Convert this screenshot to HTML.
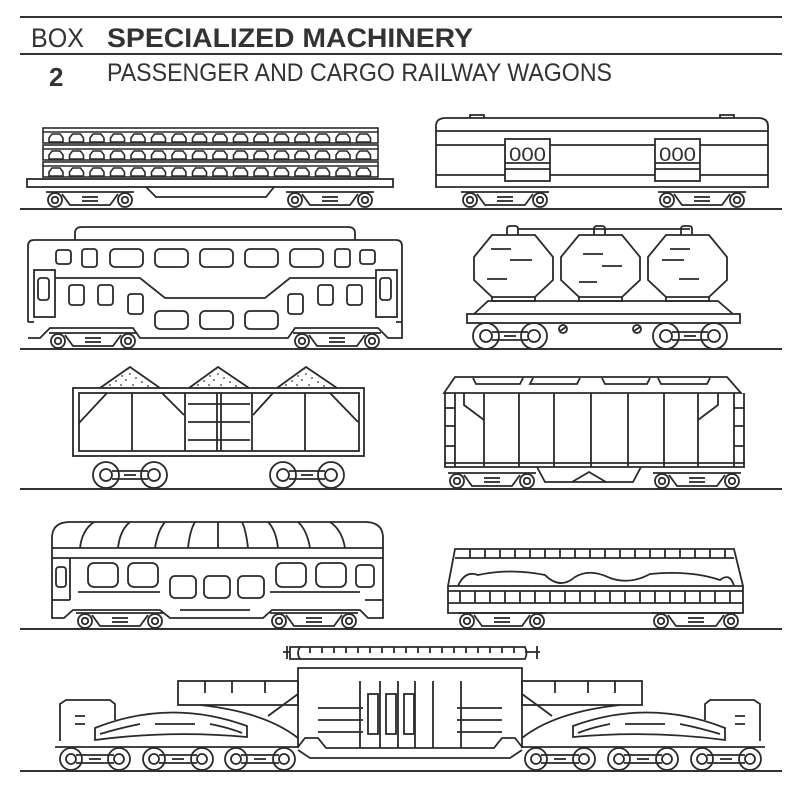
<!DOCTYPE html>
<html><head><meta charset="utf-8"><style>
html,body{margin:0;padding:0;background:#fff;}
svg{display:block;}
text{font-family:"Liberation Sans",sans-serif;fill:#333;}
</style></head><body>
<svg width="795" height="800" viewBox="0 0 795 800" xmlns="http://www.w3.org/2000/svg">
<defs>
<g id="bg" fill="none" stroke="#2a2a2a" stroke-width="1.8">
  <line x1="-44" y1="-16" x2="44" y2="-16"/>
  <circle cx="-35" cy="-8" r="7"/><circle cx="-35" cy="-8" r="3.2"/>
  <circle cx="35" cy="-8" r="7"/><circle cx="35" cy="-8" r="3.2"/>
  <path d="M-28,-14 L-20,-3 L20,-3 L28,-14"/>
  <line x1="-8" y1="-11" x2="8" y2="-11"/><line x1="-8" y1="-7" x2="8" y2="-7"/>
</g>
<g id="bb" fill="none" stroke="#2a2a2a" stroke-width="1.8">
  <circle cx="-24" cy="-14" r="13"/><circle cx="-24" cy="-14" r="6"/>
  <circle cx="24" cy="-14" r="13"/><circle cx="24" cy="-14" r="6"/>
  <path d="M-18,-18 H18 M-18,-10 H18"/>
  <line x1="-6" y1="-14" x2="6" y2="-14"/>
</g>
<g id="bw" fill="none" stroke="#2a2a2a" stroke-width="1.8">
  <circle cx="-24" cy="-12" r="11"/><circle cx="-24" cy="-12" r="5"/>
  <circle cx="24" cy="-12" r="11"/><circle cx="24" cy="-12" r="5"/>
  <path d="M-19,-16 H19 M-19,-8 H19"/>
  <line x1="-6" y1="-12" x2="6" y2="-12"/>
</g>
<g id="layer" fill="none" stroke="#2a2a2a" stroke-width="1.6">
  <rect x="43" y="0" width="335" height="15"/>
  <line x1="43" y1="4" x2="378" y2="4"/>
  <path d="M49,14 v-4 l3,-4 h8 l3,4 v4 z m20.5,0 v-4 l3,-4 h8 l3,4 v4 z m20.5,0 v-4 l3,-4 h8 l3,4 v4 z m20.5,0 v-4 l3,-4 h8 l3,4 v4 z m20.5,0 v-4 l3,-4 h8 l3,4 v4 z m20.5,0 v-4 l3,-4 h8 l3,4 v4 z m20.5,0 v-4 l3,-4 h8 l3,4 v4 z m20.5,0 v-4 l3,-4 h8 l3,4 v4 z m20.5,0 v-4 l3,-4 h8 l3,4 v4 z m20.5,0 v-4 l3,-4 h8 l3,4 v4 z m20.5,0 v-4 l3,-4 h8 l3,4 v4 z m20.5,0 v-4 l3,-4 h8 l3,4 v4 z m20.5,0 v-4 l3,-4 h8 l3,4 v4 z m20.5,0 v-4 l3,-4 h8 l3,4 v4 z m20.5,0 v-4 l3,-4 h8 l3,4 v4 z m20.5,0 v-4 l3,-4 h8 l3,4 v4 z"/>
</g>
<g id="dots" fill="#333">
  <circle cx="-8" cy="-8" r="0.9"/><circle cx="0" cy="-10" r="0.9"/><circle cx="6" cy="-6" r="0.9"/>
  <circle cx="-14" cy="-3" r="0.9"/><circle cx="-4" cy="-4" r="0.9"/><circle cx="12" cy="-2" r="0.9"/>
  <circle cx="-20" cy="1" r="0.9"/><circle cx="-9" cy="1" r="0.9"/><circle cx="3" cy="1" r="0.9"/><circle cx="18" cy="2" r="0.9"/>
  <circle cx="-2" cy="-15" r="0.9"/><circle cx="9" cy="-11" r="0.9"/>
</g>
</defs>

<g fill="none" stroke="#333" stroke-width="2">
<line x1="20" y1="17" x2="782" y2="17"/>
<line x1="20" y1="54" x2="782" y2="54"/>
<line x1="20" y1="209" x2="782" y2="209"/>
<line x1="20" y1="349" x2="782" y2="349"/>
<line x1="20" y1="489" x2="782" y2="489"/>
<line x1="20" y1="629" x2="782" y2="629"/>
<line x1="20" y1="771" x2="782" y2="771"/>
</g>
<text x="31" y="47" font-size="27" textLength="53" lengthAdjust="spacingAndGlyphs" font-weight="300" fill="#444">BOX</text>
<text x="107" y="47" font-size="27" font-weight="bold" textLength="366" lengthAdjust="spacingAndGlyphs">SPECIALIZED MACHINERY</text>
<text x="49" y="86" font-size="26" font-weight="bold">2</text>
<text x="107" y="81" font-size="25" textLength="505" lengthAdjust="spacingAndGlyphs" fill="#444">PASSENGER AND CARGO RAILWAY WAGONS</text>

<g fill="none" stroke="#2a2a2a" stroke-width="1.8">
<!-- Row1 left flatcar -->
<use href="#layer" transform="translate(0,128)"/>
<use href="#layer" transform="translate(0,145)"/>
<use href="#layer" transform="translate(0,162)"/>
<rect x="27" y="179" width="366" height="8"/>
<path d="M146,187 L156,197 H266 L274,187"/>
<use href="#bg" transform="translate(90,208)"/>
<use href="#bg" transform="translate(330,208)"/>
<!-- Row1 right boxcar -->
<path d="M436,187 V126 Q436,118 446,118 H758 Q768,118 768,126 V187 Z"/>
<path d="M470,118 v-3 h14 v3 M720,118 v-3 h14 v3"/>
<line x1="436" y1="131" x2="768" y2="131"/>
<line x1="436" y1="145" x2="505" y2="145"/><line x1="550" y1="145" x2="655" y2="145"/><line x1="700" y1="145" x2="768" y2="145"/>
<line x1="436" y1="175" x2="505" y2="175"/><line x1="550" y1="175" x2="655" y2="175"/><line x1="700" y1="175" x2="768" y2="175"/>
<rect x="505" y="139" width="45" height="42"/><path d="M505,163 H550 M505,169 H550"/>
<rect x="655" y="139" width="45" height="42"/><path d="M655,163 H700 M655,169 H700"/>
<use href="#bg" transform="translate(505,208)"/>
<use href="#bg" transform="translate(702,208)"/>
</g>
<text x="509" y="161" font-size="19" textLength="37" lengthAdjust="spacingAndGlyphs" fill="#2a2a2a">000</text>
<text x="659" y="161" font-size="19" textLength="37" lengthAdjust="spacingAndGlyphs" fill="#2a2a2a">000</text>

<g fill="none" stroke="#2a2a2a" stroke-width="1.8">
<!-- Row2 double decker -->
<path d="M75,240 V233 Q75,227 82,227 H348 Q355,227 355,233 V240"/>
<path d="M28,322 V246 Q28,240 34,240 H396 Q402,240 402,246 V338 H388 L378,328 H295 L288,338 H140 L133,328 H50 L40,338 H28"/>
<path d="M28,322 H34 M396,322 H402"/>
<rect x="34" y="270" width="21" height="47"/>
<rect x="38" y="278" width="11" height="22" rx="3"/>
<rect x="376" y="270" width="21" height="47"/>
<rect x="380" y="278" width="11" height="22" rx="3"/>
<path d="M55,278 H140 L165,298 H265 L290,278 H376"/>
<rect x="56" y="250" width="15" height="14" rx="3"/><rect x="82" y="249" width="15" height="18" rx="3"/>
<rect x="110" y="249" width="33" height="18" rx="5"/><rect x="155" y="249" width="33" height="18" rx="5"/>
<rect x="200" y="249" width="33" height="18" rx="5"/><rect x="245" y="249" width="33" height="18" rx="5"/>
<rect x="290" y="249" width="33" height="18" rx="5"/><rect x="335" y="249" width="15" height="18" rx="3"/>
<rect x="360" y="250" width="15" height="14" rx="3"/>
<rect x="69" y="285" width="15" height="20" rx="3"/><rect x="98" y="285" width="15" height="20" rx="3"/>
<rect x="128" y="294" width="15" height="20" rx="3"/>
<rect x="155" y="311" width="33" height="18" rx="5"/><rect x="200" y="311" width="33" height="18" rx="5"/><rect x="245" y="311" width="33" height="18" rx="5"/>
<rect x="288" y="294" width="15" height="20" rx="3"/><rect x="318" y="285" width="15" height="20" rx="3"/><rect x="347" y="285" width="15" height="20" rx="3"/>
<use href="#bg" transform="translate(93,349)"/>
<use href="#bg" transform="translate(337,349)"/>
<!-- Row2 tank hoppers -->
<path d="M518,229 H690 M507,235 v-6 q0,-3 3,-3 h5 q3,0 3,3 v6 M594,235 v-6 q0,-3 3,-3 h5 q3,0 3,3 v6 M681,235 v-6 q0,-3 3,-3 h5 q3,0 3,3 v6"/>
<path d="M492,235 H535 L553,257 V280 L535,297 H492 L474,280 V257 Z"/>
<path d="M579,235 H622 L640,257 V280 L622,297 H579 L561,280 V257 Z"/>
<path d="M666,235 H709 L727,257 V280 L709,297 H666 L648,280 V257 Z"/>
<path d="M492,297 v4 h43 v-4 M579,297 v4 h43 v-4 M666,297 v4 h43 v-4"/>
<path d="M474,314 L488,301 H718 L733,314"/>
<rect x="467" y="314" width="273" height="9"/>
<path d="M491,249 h20 M510,260 h22 M487,279 h20 M583,254 h20 M602,266 h20 M579,282 h18 M670,249 h20 M662,260 h22 M679,279 h20"/>
<circle cx="563" cy="329" r="4"/><circle cx="637" cy="329" r="4"/>
<path d="M560,331 l6,-4 M634,331 l6,-4"/>
<use href="#bb" transform="translate(510,350)"/>
<use href="#bb" transform="translate(690,350)"/>
<!-- Row3 open hopper -->
<path d="M100,388 L130,367 L160,388 M189,388 L218,367 L249,388 M277,388 L306,367 L337,388"/>
<rect x="73" y="388" width="291" height="68"/>
<rect x="79" y="393" width="280" height="58"/>
<path d="M79,423 L107,393 M162,393 L184,415 M253,415 L273,393 M330,393 L358,422"/>
<path d="M132,393 V451 M185,393 V451 M217,393 V451 M221,393 V451 M252,393 V451 M305,393 V451"/>
<path d="M188,404 H250 M188,422 H250 M188,440 H250"/>
<use href="#bb" transform="translate(130,489)"/>
<use href="#bb" transform="translate(307,489)"/>
<!-- Row3 covered hopper -->
<path d="M444,393 L455,377 H727 L741,393 Z"/>
<path d="M473,378 l3,6 h44 l3,-6 M533,378 l-3,6 h47 l3,-6 M602,378 l3,6 h42 l3,-6 M658,378 l3,6 h46 l3,-6"/>
<path d="M445,393 V467 M455,393 V467 M734,393 V467 M744,393 V467 M444,467 H745 M444,463 H745"/>
<path d="M445,408 h10 M445,426 h10 M445,446 h10 M734,408 h10 M734,426 h10 M734,446 h10"/>
<path d="M484,393 V467 M519,393 V467 M554,393 V467 M591,393 V467 M628,393 V467 M664,393 V467 M698,393 V467"/>
<path d="M464,393 V405 L484,420 M718,393 V405 L698,420"/>
<path d="M537,467 L545,482 H633 L641,467 M572,482 L589,472 L606,482"/>
<use href="#bg" transform="translate(492,489)"/>
<use href="#bg" transform="translate(697,489)"/>
<!-- Row4 passenger -->
<path d="M52,548 V538 Q52,522 70,522 H365 Q383,522 383,538 V548 Z"/>
<path d="M80,548 Q82,530 94,522 M118,548 Q120,530 130,522 M155,548 Q158,530 165,522 M188,548 Q190,530 195,522 M218,548 V522 M248,548 Q246,530 242,522 M278,548 Q276,530 268,522 M310,548 Q307,530 298,522 M345,548 Q342,530 330,522"/>
<path d="M52,548 V618 H64 L73,610 H160 L170,618 H263 L272,610 H360 L368,618 H383 V548 M52,558 H383 M52,600 H70 M365,600 H383 M70,558 V600"/>
<rect x="56" y="567" width="10" height="20" rx="3"/>
<rect x="88" y="563" width="30" height="24" rx="6"/><rect x="128" y="563" width="30" height="24" rx="6"/>
<rect x="170" y="576" width="26" height="22" rx="5"/><rect x="204" y="576" width="26" height="22" rx="5"/><rect x="238" y="576" width="26" height="22" rx="5"/>
<rect x="276" y="563" width="30" height="24" rx="6"/><rect x="316" y="563" width="30" height="24" rx="6"/><rect x="356" y="565" width="18" height="22" rx="4"/>
<path d="M78,592 H160 M180,610 H250 M270,592 H360"/>
<use href="#bg" transform="translate(120,629)"/>
<use href="#bg" transform="translate(314,629)"/>
<!-- Row4 gondola -->
<path d="M448,613 V586 L455,549 H734 L743,586 V613 Z M448,586 H743 M448,591 H743 M455,558 H734 M448,603 H743"/>
<path d="M470,549 V558 M485,549 V558 M500,549 V558 M515,549 V558 M530,549 V558 M545,549 V558 M560,549 V558 M575,549 V558 M590,549 V558 M605,549 V558 M620,549 V558 M635,549 V558 M650,549 V558 M665,549 V558 M680,549 V558 M695,549 V558 M710,549 V558 M725,549 V558"/>
<path d="M460,591 V603 M475,591 V603 M490,591 V603 M505,591 V603 M520,591 V603 M535,591 V603 M550,591 V603 M565,591 V603 M580,591 V603 M595,591 V603 M610,591 V603 M625,591 V603 M640,591 V603 M655,591 V603 M670,591 V603 M685,591 V603 M700,591 V603 M715,591 V603 M730,591 V603"/>
<path d="M458,586 Q465,570 478,575 Q510,568 545,575 Q560,590 575,577 Q590,568 610,578 Q630,585 650,574 Q690,570 720,580 Q730,572 734,586"/>
<use href="#bg" transform="translate(502,629)"/>
<use href="#bg" transform="translate(696,629)"/>
<!-- Row5 heavy transporter -->
<path d="M283,652 H290 M287,646 V659 M290,647 H300 Q296,653 300,659 H290 Z"/>
<path d="M300,647 H525 Q528,653 525,659 H300 M525,652 H540 M537,646 V659"/>
<path d="M310,647 V653 M322,647 V653 M334,647 V653 M346,647 V653 M358,647 V653 M370,647 V653 M382,647 V653 M394,647 V653 M406,647 V653 M418,647 V653 M430,647 V653 M442,647 V653 M454,647 V653 M466,647 V653 M478,647 V653 M490,647 V653 M502,647 V653 M514,647 V653"/>
<path d="M298,748 V668 H522 V748"/>
<rect x="178" y="681" width="120" height="24"/><rect x="522" y="681" width="120" height="24"/>
<path d="M205,681 v12 M232,681 v12 M265,681 v12 M555,681 v12 M588,681 v12 M615,681 v12"/>
<path d="M268,716 L298,694 M552,716 L522,694"/>
<path d="M60,741 V704 L66,700 H110 L115,704 V720 M760,741 V704 L754,700 H710 L705,704 V720"/>
<path d="M75,716 h10 M75,724 h10 M735,716 h10 M735,724 h10"/>
<path d="M95,740 V728 Q170,698 247,726 V737 Q170,730 95,740 Z M100,734 Q120,728 140,724 M155,724 H195 M210,724 Q230,728 242,733"/>
<path d="M725,740 V728 Q650,698 573,726 V737 Q650,730 725,740 Z M720,734 Q700,728 680,724 M665,724 H625 M610,724 Q590,728 578,733"/>
<path d="M200,705 Q265,712 298,738 M620,705 Q555,712 522,738"/>
<path d="M318,708 h45 M318,720 h45 M318,732 h45 M457,708 h45 M457,720 h45 M457,732 h45"/>
<path d="M360,681 V748 M461,681 V748 M380,681 V748 M398,681 V748 M415,681 V748 M433,681 V748"/>
<rect x="368" y="694" width="10" height="40"/><rect x="386" y="694" width="10" height="40"/><rect x="404" y="694" width="10" height="40"/>
<path d="M55,747 H298 L305,738 H318 L326,748 H494 L502,738 H515 L522,747 H765"/>
<path d="M298,750 L310,758 H510 L522,750"/>
<use href="#bw" transform="translate(95,771)"/>
<use href="#bw" transform="translate(178,771)"/>
<use href="#bw" transform="translate(260,771)"/>
<use href="#bw" transform="translate(560,771)"/>
<use href="#bw" transform="translate(643,771)"/>
<use href="#bw" transform="translate(726,771)"/>
</g>
<use href="#dots" transform="translate(130,384)"/>
<use href="#dots" transform="translate(218,384)"/>
<use href="#dots" transform="translate(306,384)"/>
</svg>
</body></html>
